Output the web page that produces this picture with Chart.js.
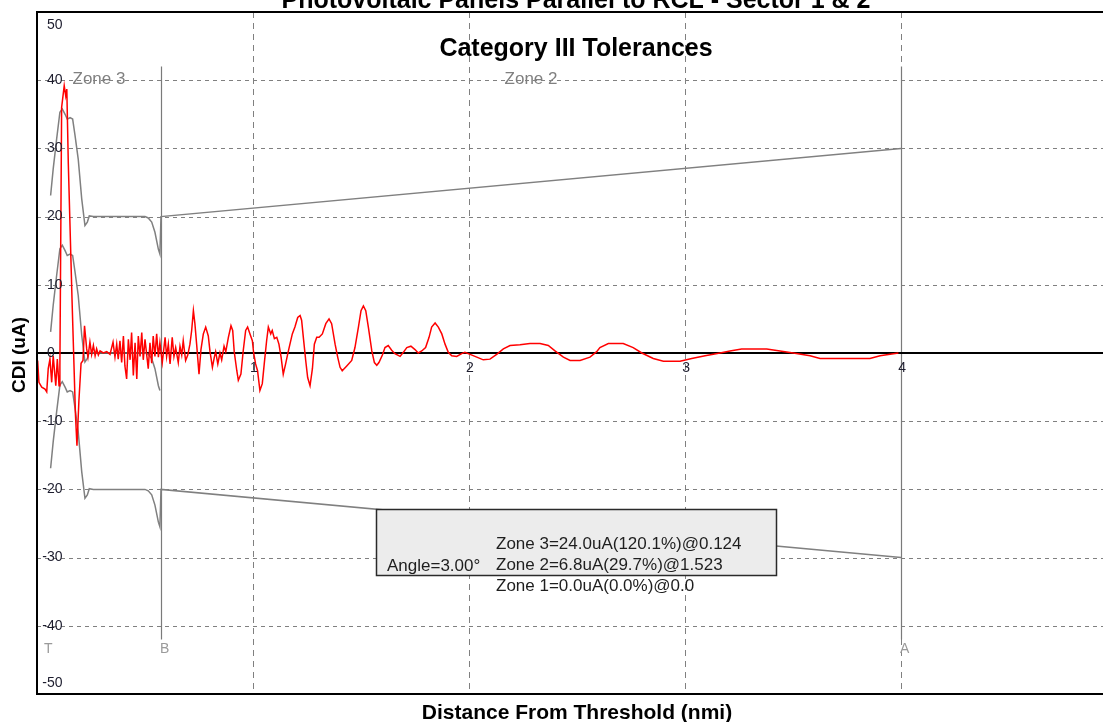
<!DOCTYPE html>
<html>
<head>
<meta charset="utf-8">
<script src="https://cdn.jsdelivr.net/npm/chart.js@4.4.1/dist/chart.umd.min.js"></script>
<style>
html,body{margin:0;padding:0;background:#fff;overflow:hidden}
#wrap{width:1103px;height:722px;position:relative}
</style>
</head>
<body>
<div id="wrap"><canvas id="c" width="1103" height="722"></canvas></div>
<script>
// ---------- texts ----------
const mainTitle = "Photovoltaic Panels Parallel to RCL - Sector 1 & 2";
const subTitle = "Category III Tolerances";
const xAxisTitle = "Distance From Threshold (nmi)";
const yAxisTitle = "CDI (uA)";
const infoAngle = "Angle=3.00°";
const infoLines = ["Zone 3=24.0uA(120.1%)@0.124", "Zone 2=6.8uA(29.7%)@1.523", "Zone 1=0.0uA(0.0%)@0.0"];

// ---------- axes ----------
const yTickValues = [50, 40, 30, 20, 10, 0, -10, -20, -30, -40, -50];
const xTickValues = [1, 2, 3, 4];
const xAxisMin = 0, xAxisMax = 4.935;
const yAxisMin = -50, yAxisMax = 50;

// ---------- markers & zones ----------
const markerLabels = ["T", "B", "A"];
const markerDistance = [0, 0.574, 4.0];
const markerTop = 42, markerBottom = -42;
const zoneLabels = ["Zone 3", "Zone 2"];
const zoneLabelLevel = 40;

// ---------- CDI trace (red) ----------
const cdiDistance = [0.003,0.009,0.022,0.037,0.045,0.052,0.060,0.068,0.075,0.087,0.094,0.102,0.106,0.114,0.126,0.133,0.138,0.145,0.162,0.178,0.185,0.194,0.204,0.213,0.220,0.230,0.236,0.245,0.253,0.261,0.269,0.276,0.284,0.292,0.307,0.323,0.338,0.352,0.361,0.369,0.376,0.384,0.392,0.400,0.407,0.415,0.423,0.431,0.438,0.446,0.454,0.462,0.469,0.477,0.485,0.492,0.500,0.515,0.523,0.531,0.538,0.546,0.554,0.562,0.569,0.580,0.593,0.600,0.608,0.616,0.626,0.634,0.642,0.654,0.662,0.670,0.677,0.688,0.698,0.708,0.716,0.724,0.731,0.739,0.750,0.759,0.770,0.781,0.793,0.801,0.812,0.821,0.827,0.837,0.847,0.855,0.866,0.874,0.886,0.898,0.906,0.913,0.925,0.932,0.944,0.955,0.966,0.975,0.986,0.997,1.003,1.012,1.021,1.032,1.043,1.052,1.063,1.071,1.082,1.089,1.099,1.110,1.120,1.130,1.140,1.151,1.161,1.171,1.182,1.194,1.207,1.218,1.225,1.233,1.244,1.253,1.264,1.275,1.284,1.295,1.306,1.321,1.337,1.352,1.364,1.380,1.392,1.403,1.413,1.434,1.457,1.472,1.488,1.500,1.511,1.522,1.534,1.550,1.562,1.573,1.583,1.599,1.611,1.626,1.642,1.657,1.681,1.696,1.712,1.731,1.750,1.765,1.781,1.799,1.815,1.827,1.843,1.858,1.874,1.889,1.904,1.920,1.943,1.966,1.981,2.005,2.036,2.066,2.097,2.128,2.159,2.190,2.236,2.282,2.329,2.367,2.398,2.437,2.468,2.514,2.560,2.591,2.606,2.645,2.714,2.760,2.800,2.853,2.900,2.977,3.031,3.093,3.162,3.208,3.262,3.378,3.440,3.501,3.579,3.625,3.856,3.903,3.988];
const cdiValue = [-1.1,-4.3,-5.0,-5.3,-5.7,-2.3,-0.9,-4.3,-0.4,-4.8,-0.9,-4.8,-2.0,36.0,39.2,37.7,38.7,27.7,8.0,-9.0,-13.6,-7.0,-1.5,-1.1,4.0,0.6,-0.6,1.6,-0.2,1.1,-0.4,0.6,-0.3,0.3,0.0,0.2,-0.2,1.6,-0.6,1.3,-0.9,1.8,-1.4,2.5,-1.9,-3.8,2.0,-1.0,3.0,-3.3,1.5,-3.8,2.5,-0.5,3.0,-1.0,2.0,-2.3,1.5,-1.5,2.5,-0.5,2.8,-0.6,1.5,-1.4,2.3,-0.5,1.3,-1.6,2.3,-0.5,0.8,-1.4,1.0,-0.3,1.8,-1.1,-0.3,1.3,3.3,6.2,4.3,1.3,-3.1,0.5,2.8,3.8,2.5,0.2,-2.1,-0.6,0.2,-1.6,0.0,-1.0,1.0,0.2,2.3,4.0,3.3,0.2,-2.6,-4.0,-3.1,0.4,3.3,3.8,2.8,1.8,0.0,-1.6,-2.6,-5.5,-4.5,-1.6,1.8,3.8,2.8,3.3,2.1,2.3,1.3,-0.6,-3.1,-1.6,-0.1,1.3,2.8,3.8,5.2,5.5,4.8,2.3,-1.1,-3.6,-4.8,-2.3,1.3,2.3,2.3,2.8,4.3,5.0,4.3,1.3,-0.6,-2.1,-2.6,-1.9,-1.1,0.8,3.8,6.2,6.9,6.2,3.8,0.3,-1.4,-1.8,-1.4,-0.3,0.8,1.1,0.4,-0.1,-0.5,0.1,0.8,1.0,0.5,0.0,0.3,0.8,2.3,3.8,4.4,3.8,2.8,1.3,0.1,-0.4,-0.5,-0.1,0.1,-0.2,-0.6,-1.0,-0.9,-0.2,0.6,1.1,1.2,1.4,1.4,1.1,0.3,-0.6,-1.1,-1.1,-0.6,0.2,0.8,1.4,1.4,0.8,0.0,-0.8,-1.2,-1.2,-0.8,-0.4,0.0,0.3,0.6,0.6,0.3,0.0,-0.4,-0.8,-0.8,-0.4,0.0];

// ---------- tolerance limits (grey) ----------
const upperDistance = [0.063,0.075,0.091,0.106,0.117,0.130,0.140,0.153,0.165,0.176,0.191,0.207,0.222,0.233,0.242,0.261,0.500,0.515,0.531,0.546,0.562,0.569,0.574,4.0];
const upperValue = [23.1,27.0,31.4,35.3,35.8,35.0,34.3,34.5,34.3,31.9,28.4,22.6,18.7,19.2,20.1,20.0,20.0,19.8,19.2,17.7,15.2,14.5,20.0,30.0];
const centreDistance = [0.063,0.075,0.091,0.106,0.117,0.130,0.140,0.153,0.165,0.176,0.191,0.207,0.222,0.233,0.242,0.261,0.500,0.515,0.531,0.546,0.562,0.569];
const centreValue = [3.1,7.0,11.4,15.3,15.8,15.0,14.3,14.5,14.3,11.9,8.4,2.6,-1.3,-0.8,0.1,0.0,0.0,-0.2,-0.8,-2.3,-4.8,-5.5];
const lowerDistance = [0.063,0.075,0.091,0.106,0.117,0.130,0.140,0.153,0.165,0.176,0.191,0.207,0.222,0.233,0.242,0.261,0.500,0.515,0.531,0.546,0.562,0.569,0.574,4.0];
const lowerValue = [-16.9,-13.0,-8.6,-4.7,-4.2,-5.0,-5.7,-5.5,-5.7,-8.1,-11.6,-17.4,-21.3,-20.8,-19.9,-20.0,-20.0,-20.2,-20.8,-22.3,-24.8,-25.5,-20.0,-30.0];

function pts(xs, ys) { return xs.map((v, i) => ({ x: v, y: ys[i] })); }

const FONT = '"Liberation Sans", Arial, sans-serif';

const decor = {
  id: 'decor',
  beforeDatasetsDraw(chart) {
    const { ctx, chartArea: a, scales: { x, y } } = chart;
    ctx.save();
    // horizontal dashed grid
    ctx.strokeStyle = '#808080';
    ctx.lineWidth = 1;
    ctx.setLineDash([4, 4]);
    yTickValues.forEach(v => {
      if (v === 0 || v === yAxisMax || v === yAxisMin) return;
      const py = Math.round(y.getPixelForValue(v)) + 0.5;
      ctx.beginPath(); ctx.moveTo(a.left, py); ctx.lineTo(a.right, py); ctx.stroke();
    });
    // vertical dashed grid
    ctx.setLineDash([6, 5]);
    xTickValues.forEach(v => {
      const px = Math.round(x.getPixelForValue(v)) + 0.5;
      ctx.beginPath(); ctx.moveTo(px, a.top); ctx.lineTo(px, a.bottom); ctx.stroke();
    });
    ctx.setLineDash([]);
    // marker lines
    ctx.strokeStyle = '#7a7a7a';
    ctx.lineWidth = 1.2;
    markerDistance.forEach((v, i) => {
      if (v <= xAxisMin) return;
      const px = Math.round(x.getPixelForValue(v)) + 0.5;
      ctx.beginPath();
      ctx.moveTo(px, y.getPixelForValue(markerTop));
      ctx.lineTo(px, y.getPixelForValue(markerBottom));
      ctx.stroke();
    });
    // zero line
    const y0 = Math.round(y.getPixelForValue(0));
    ctx.strokeStyle = '#000';
    ctx.lineWidth = 2;
    ctx.beginPath(); ctx.moveTo(a.left, y0); ctx.lineTo(a.right, y0); ctx.stroke();
    // zone labels
    ctx.fillStyle = '#808080';
    ctx.font = '17px ' + FONT;
    ctx.textAlign = 'center';
    ctx.textBaseline = 'middle';
    const zy = y.getPixelForValue(zoneLabelLevel) - 1;
    for (let i = 0; i < zoneLabels.length; i++) {
      const cx = (x.getPixelForValue(markerDistance[i]) + x.getPixelForValue(markerDistance[i + 1])) / 2;
      ctx.fillText(zoneLabels[i], cx, zy);
    }
    ctx.restore();
  },
  afterDatasetsDraw(chart) {
    const { ctx, chartArea: a, scales: { x, y } } = chart;
    ctx.save();
    // plot border
    ctx.strokeStyle = '#000';
    ctx.lineWidth = 2;
    ctx.beginPath();
    ctx.moveTo(a.right, a.top); ctx.lineTo(a.left, a.top); ctx.lineTo(a.left, a.bottom); ctx.lineTo(a.right, a.bottom);
    ctx.stroke();

    // y tick labels (inside plot)
    ctx.font = '14px ' + FONT;
    ctx.fillStyle = '#1d1d2e';
    ctx.textAlign = 'left';
    ctx.textBaseline = 'middle';
    const lx = a.left + 10;
    const dash = ctx.measureText('-').width;
    yTickValues.forEach(v => {
      let py = y.getPixelForValue(v);
      py = Math.min(Math.max(py, a.top + 13), a.bottom - 11);
      const s = String(v);
      ctx.fillText(s, v < 0 ? lx - dash : lx, py);
    });
    // x tick labels along zero line
    const y0 = y.getPixelForValue(0);
    ctx.textAlign = 'center';
    xTickValues.forEach(v => {
      ctx.fillText(String(v), x.getPixelForValue(v) + 1, y0 + 15);
    });
    // marker labels
    ctx.fillStyle = '#9a9a9a';
    ctx.font = '14px ' + FONT;
    ctx.textAlign = 'left';
    markerDistance.forEach((v, i) => {
      const px = Math.max(x.getPixelForValue(v) - 1, a.left + 7);
      ctx.fillText(markerLabels[i], px, y.getPixelForValue(markerBottom) + 10);
    });

    // info box
    const bx = 376.5, by = 509.5, bw = 400, bh = 66;
    ctx.fillStyle = '#ececec';
    ctx.fillRect(bx, by, bw, bh);
    ctx.strokeStyle = '#2a2a2a';
    ctx.lineWidth = 1.5;
    ctx.strokeRect(bx, by, bw, bh);
    ctx.fillStyle = '#1e1e1e';
    ctx.font = '17px ' + FONT;
    ctx.textAlign = 'left';
    ctx.textBaseline = 'middle';
    ctx.fillText(infoAngle, 387, 566);
    infoLines.forEach((s, i) => ctx.fillText(s, 496, 544 + i * 21));

    // titles
    const cx = 576;
    ctx.fillStyle = '#000';
    ctx.textAlign = 'center';
    ctx.textBaseline = 'alphabetic';
    ctx.font = 'bold 25px ' + FONT;
    ctx.fillText(mainTitle, cx, 8);
    ctx.fillText(subTitle, cx, 56);
    ctx.font = 'bold 21px ' + FONT;
    ctx.fillText(xAxisTitle, cx + 1, 719);
    ctx.save();
    ctx.translate(25, 355);
    ctx.rotate(-Math.PI / 2);
    ctx.font = 'bold 19px ' + FONT;
    ctx.textAlign = 'center';
    ctx.fillText(yAxisTitle, 0, 0);
    ctx.restore();
    ctx.restore();
  }
};

new Chart(document.getElementById('c'), {
  type: 'scatter',
  data: {
    datasets: [
      { label: 'CDI', data: pts(cdiDistance, cdiValue), showLine: true, borderColor: '#ff0000', borderWidth: 1.5, pointRadius: 0, tension: 0, order: 0 },
      { label: 'Upper limit', data: pts(upperDistance, upperValue), showLine: true, borderColor: '#808080', borderWidth: 1.5, pointRadius: 0, tension: 0, order: 1 },
      { label: 'Centre', data: pts(centreDistance, centreValue), showLine: true, borderColor: '#808080', borderWidth: 1.5, pointRadius: 0, tension: 0, order: 1 },
      { label: 'Lower limit', data: pts(lowerDistance, lowerValue), showLine: true, borderColor: '#808080', borderWidth: 1.5, pointRadius: 0, tension: 0, order: 1 }
    ]
  },
  options: {
    responsive: false,
    animation: false,
    devicePixelRatio: 1,
    layout: { padding: { left: 37, right: 0, top: 12, bottom: 28 } },
    plugins: { legend: { display: false }, tooltip: { enabled: false }, title: { display: false } },
    scales: {
      x: { type: 'linear', min: xAxisMin, max: xAxisMax, display: false },
      y: { type: 'linear', min: yAxisMin, max: yAxisMax, display: false }
    }
  },
  plugins: [decor]
});
</script>
</body>
</html>
